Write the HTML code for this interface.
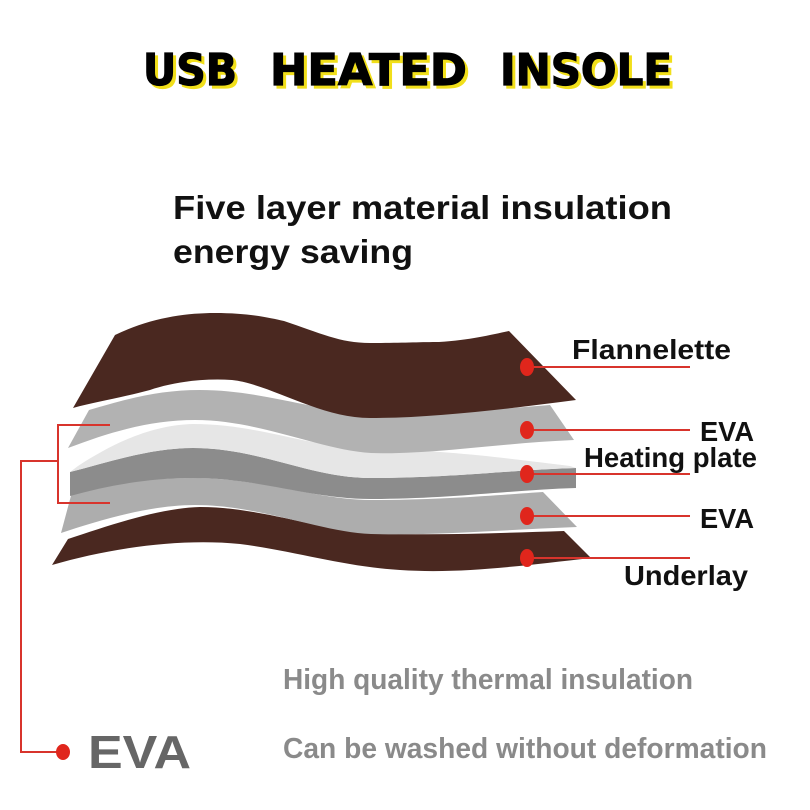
<!DOCTYPE html>
<html><head><meta charset="utf-8"><style>
body{margin:0;background:#fff;width:810px;height:810px;overflow:hidden}
svg{display:block}
</style></head><body>
<svg width="810" height="810" viewBox="0 0 810 810" xmlns="http://www.w3.org/2000/svg">
<rect width="810" height="810" fill="#fff"/>
<g font-family="'DejaVu Sans','Liberation Sans',sans-serif" font-weight="bold" font-size="44" fill="#f1df1a" stroke="#f1df1a" stroke-width="1.2">
<text x="146" y="88" textLength="94" lengthAdjust="spacingAndGlyphs">USB</text>
<text x="273" y="88" textLength="197" lengthAdjust="spacingAndGlyphs">HEATED</text>
<text x="503" y="88" textLength="172" lengthAdjust="spacingAndGlyphs">INSOLE</text>
</g>
<g font-family="'DejaVu Sans','Liberation Sans',sans-serif" font-weight="bold" font-size="44" fill="#000" stroke="#000" stroke-width="1.2">
<text x="143" y="85" textLength="94" lengthAdjust="spacingAndGlyphs">USB</text>
<text x="270" y="85" textLength="197" lengthAdjust="spacingAndGlyphs">HEATED</text>
<text x="500" y="85" textLength="172" lengthAdjust="spacingAndGlyphs">INSOLE</text>
</g>
<g font-family="'Liberation Sans',sans-serif" font-weight="bold" fill="#111" font-size="33">
<text x="173" y="219" textLength="499" lengthAdjust="spacingAndGlyphs">Five layer material insulation</text>
<text x="173" y="263" textLength="240" lengthAdjust="spacingAndGlyphs">energy saving</text>
</g>
<path d="M68,539 C110,525 160,508 200,507 C260,507 320,530 371,533 C430,536 500,533 564,531 L591,558 C520,566 460,574 400,570 C340,566 300,552 240,544 C180,538 110,548 52,565 Z" fill="#4a2820"/>
<path d="M72,492 C120,480 160,478 200,478 C270,480 320,500 371,500 C450,500 510,494 543,492 L577,527 C500,530 430,536 371,534 C320,532 260,505 195,505 C150,505 100,520 61,533 Z" fill="#adadad"/>
<path d="M70,472 C110,462 150,448 193,448 C260,448 310,478 371,478 C450,478 510,470 576,468 L576,488 C510,490 450,499 371,499 C310,499 260,478 193,478 C150,478 110,485 70,496 Z" fill="#8c8c8c"/>
<path d="M78,466 C110,445 150,425 193,424 C260,424 310,448 371,449 C450,450 520,460 570,466 L576,468 C510,470 450,478 371,478 C310,478 260,448 193,448 C150,448 110,462 70,472 Z" fill="#e6e6e6"/>
<path d="M89,410 C130,398 160,390 200,390 C260,390 310,410 371,414 C450,414 510,408 550,405 L574,440 C500,443 430,455 371,453 C320,450 260,420 195,420 C150,420 110,432 68,448 Z" fill="#b2b2b2"/>
<path d="M115,335 C150,318 185,313 215,313 C250,313 270,318 284,321 C320,333 340,343 370,343 C400,343 420,342 439,342 C470,340 490,335 509,331 L576,400 C500,410 430,418 370,418 C320,418 270,384 232,380 C200,378 170,383 150,390 C120,398 95,402 73,408 Z" fill="#4a2820"/>
<g stroke="#d8342c" stroke-width="2" fill="none">
<line x1="525" y1="367" x2="690" y2="367"/>
<line x1="525" y1="430" x2="690" y2="430"/>
<line x1="525" y1="474" x2="690" y2="474"/>
<line x1="525" y1="516" x2="690" y2="516"/>
<line x1="525" y1="558" x2="690" y2="558"/>
<polyline points="110,425 58,425 58,503 110,503"/>
<polyline points="58,461 21,461 21,752 62,752"/>
</g>
<g fill="#e0261c">
<ellipse cx="527" cy="367" rx="7" ry="9"/>
<ellipse cx="527" cy="430" rx="7" ry="9"/>
<ellipse cx="527" cy="474" rx="7" ry="9"/>
<ellipse cx="527" cy="516" rx="7" ry="9"/>
<ellipse cx="527" cy="558" rx="7" ry="9"/>
<ellipse cx="63" cy="752" rx="7" ry="8"/>
</g>
<g font-family="'Liberation Sans',sans-serif" font-weight="bold" fill="#111" font-size="28">
<text x="572" y="359" textLength="159" lengthAdjust="spacingAndGlyphs">Flannelette</text>
<text x="700" y="441" textLength="54" lengthAdjust="spacingAndGlyphs">EVA</text>
<text x="584" y="467" textLength="173" lengthAdjust="spacingAndGlyphs">Heating plate</text>
<text x="700" y="528" textLength="54" lengthAdjust="spacingAndGlyphs">EVA</text>
<text x="624" y="585" textLength="124" lengthAdjust="spacingAndGlyphs">Underlay</text>
</g>
<g font-family="'Liberation Sans',sans-serif" font-weight="bold" fill="#8a8a8a" font-size="29">
<text x="283" y="689" textLength="410" lengthAdjust="spacingAndGlyphs">High quality thermal insulation</text>
<text x="283" y="758" textLength="484" lengthAdjust="spacingAndGlyphs">Can be washed without deformation</text>
</g>
<text x="88" y="768" font-family="'Liberation Sans',sans-serif" font-weight="bold" font-size="46" fill="#666" textLength="103" lengthAdjust="spacingAndGlyphs">EVA</text>
</svg>
</body></html>
